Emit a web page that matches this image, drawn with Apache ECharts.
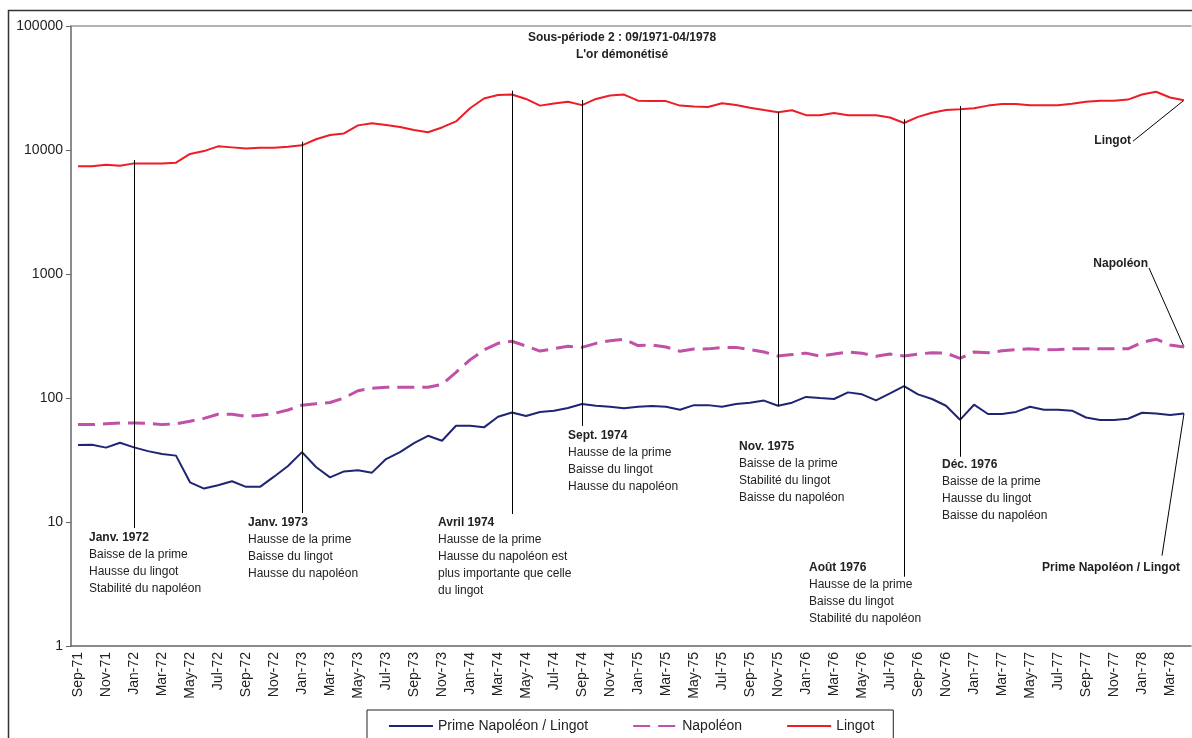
<!DOCTYPE html>
<html>
<head>
<meta charset="utf-8">
<script src="https://cdn.jsdelivr.net/npm/echarts@6/dist/echarts.min.js"></script>
<style>
html, body { margin: 0; padding: 0; background: #fff; }
#main { width: 1192px; height: 738px; }
</style>
</head>
<body>
<div id="main"></div>
<script>
var months = [
  'Sep-71','Oct-71','Nov-71','Dec-71','Jan-72','Feb-72','Mar-72','Apr-72','May-72','Jun-72','Jul-72','Aug-72',
  'Sep-72','Oct-72','Nov-72','Dec-72','Jan-73','Feb-73','Mar-73','Apr-73','May-73','Jun-73','Jul-73','Aug-73',
  'Sep-73','Oct-73','Nov-73','Dec-73','Jan-74','Feb-74','Mar-74','Apr-74','May-74','Jun-74','Jul-74','Aug-74',
  'Sep-74','Oct-74','Nov-74','Dec-74','Jan-75','Feb-75','Mar-75','Apr-75','May-75','Jun-75','Jul-75','Aug-75',
  'Sep-75','Oct-75','Nov-75','Dec-75','Jan-76','Feb-76','Mar-76','Apr-76','May-76','Jun-76','Jul-76','Aug-76',
  'Sep-76','Oct-76','Nov-76','Dec-76','Jan-77','Feb-77','Mar-77','Apr-77','May-77','Jun-77','Jul-77','Aug-77',
  'Sep-77','Oct-77','Nov-77','Dec-77','Jan-78','Feb-78','Mar-78','Apr-78'
];

var lingot = [
  7400, 7400, 7600, 7450, 7800, 7800, 7800, 7900, 9300, 9800,
  10700, 10500, 10300, 10450, 10450, 10600, 10900, 12200, 13200, 13600,
  15800, 16400, 15900, 15300, 14500, 13900, 15200, 17000, 21700, 26000,
  27800, 28000, 25800, 22800, 23700, 24500, 23000, 25800, 27500, 28000,
  25000, 24800, 24800, 22800, 22400, 22200, 23800, 23100, 21900, 21000,
  20200, 20900, 19100, 19100, 19900, 19100, 19100, 19100, 18300, 16500,
  18500, 20000, 21000, 21300, 21700, 22800, 23500, 23500, 23000, 23000,
  23000, 23600, 24500, 25000, 25000, 25500, 28000, 29500, 26500, 25200
];

var napoleon = [
  61, 61, 62, 63, 63, 62.5, 61, 62, 65, 68.5,
  74, 74, 71, 72.5, 75, 80, 87.5, 90, 92, 100,
  114.5, 120, 122, 122, 122, 122, 129, 161, 203, 244,
  276, 287, 262, 239, 250, 261, 256, 276, 290, 298,
  265, 267, 258, 238, 248, 249, 256, 256, 246, 235,
  218, 224, 230, 218, 226, 235, 230, 217, 226, 218,
  226, 232, 230, 209, 235, 232, 240, 246, 249, 244,
  246, 249, 249, 249, 249, 249, 281, 298, 268, 258
];

var prime = [
  41.8, 42, 39.8, 43.6, 40, 37.3, 35.4, 34.3, 20.9, 18.6,
  19.8, 21.3, 19.2, 19.2, 23.2, 28.3, 36.6, 27.8, 22.9, 25.6,
  26.1, 25, 32.2, 36.6, 43.2, 49.6, 45.2, 59.7, 59.7, 58,
  70.7, 76.5, 71.5, 77, 78.9, 83, 89.5, 86.6, 85, 82.7,
  84.9, 86, 85, 80.3, 87.6, 87.6, 85, 89.5, 91.7, 95.3,
  86.6, 91.7, 102, 100, 98.2, 111, 107, 95.7, 109, 124.5,
  107, 98.2, 86.6, 66.7, 88.3, 74.3, 74.3, 77.2, 85, 80.3,
  80.3, 79, 69.6, 66.4, 66.4, 68, 76.1, 74.9, 73, 74.9
];

// vertical event lines (value range in data units) and their notes
var events = [
  { month: 'Jan-72', from: 8300, to: 8.95, dx: -45, dy: 10,
    lines: ['Janv. 1972', 'Baisse de la prime', 'Hausse du lingot', 'Stabilité du napoléon'] },
  { month: 'Jan-73', from: 11670, to: 11.8, dx: -54, dy: 10,
    lines: ['Janv. 1973', 'Hausse de la prime', 'Baisse du lingot', 'Hausse du napoléon'] },
  { month: 'Apr-74', from: 30100, to: 11.6, dx: -74, dy: 9,
    lines: ['Avril 1974', 'Hausse de la prime', 'Hausse du napoléon est', 'plus importante que celle', 'du lingot'] },
  { month: 'Sep-74', from: 25300, to: 59.5, dx: -14, dy: 10,
    lines: ['Sept. 1974', 'Hausse de la prime', 'Baisse du lingot', 'Hausse du napoléon'] },
  { month: 'Nov-75', from: 20250, to: 86, dx: -39, dy: 41,
    lines: ['Nov. 1975', 'Baisse de la prime', 'Stabilité du lingot', 'Baisse du napoléon'] },
  { month: 'Aug-76', from: 17700, to: 3.62, dx: -95, dy: -9,
    lines: ['Août 1976', 'Hausse de la prime', 'Baisse du lingot', 'Stabilité du napoléon'] },
  { month: 'Dec-76', from: 22600, to: 33.6, dx: -18, dy: 8,
    lines: ['Déc. 1976', 'Baisse de la prime', 'Hausse du lingot', 'Baisse du napoléon'] }
];

var FONT = '"Liberation Sans", Arial, sans-serif';
var colPrime = '#1f2573', colNap = '#c050a8', colLingot = '#ee1c25';

var chart = echarts.init(document.getElementById('main'));

var markLines = events.map(function (e) {
  return [{ coord: [e.month, e.from] }, { coord: [e.month, e.to] }];
});

var option = {
  animation: false,
  textStyle: { fontFamily: FONT },
  grid: { left: 71, right: 1, top: 26, bottom: 92, outerBoundsMode: 'none' },
  legend: {
    data: ['Prime Napoléon / Lingot', 'Napoléon', 'Lingot'],
    left: 367, top: 710,
    padding: [9, 19, 12, 21],
    itemGap: 44, itemWidth: 44, itemHeight: 10,
    borderColor: '#222', borderWidth: 1,
    selectedMode: false,
    itemStyle: { opacity: 0 },
    textStyle: { fontSize: 14, color: '#222', fontFamily: FONT }
  },
  xAxis: [{
    type: 'category',
    data: months,
    boundaryGap: true,
    axisLine: { lineStyle: { color: '#666', width: 1.5 } },
    axisTick: { interval: 1, length: 5, lineStyle: { color: '#666' } },
    axisLabel: { interval: 1, rotate: 90, fontSize: 14, color: '#222', margin: 6 },
    splitLine: { show: false }
  }, {
    type: 'category',
    data: months,
    position: 'top',
    axisLine: { lineStyle: { color: '#999', width: 1.5 } },
    axisTick: { show: false },
    axisLabel: { show: false }
  }],
  yAxis: {
    type: 'log',
    logBase: 10,
    min: 1, max: 100000,
    axisLine: { show: true, lineStyle: { color: '#666', width: 1.5 } },
    axisTick: { show: true, length: 5, lineStyle: { color: '#666' } },
    axisLabel: { fontSize: 14, color: '#222', margin: 8,
      formatter: function (v) { return String(Math.round(v)); } },
    splitLine: { show: false }
  },
  series: [{
    name: 'Prime Napoléon / Lingot',
    type: 'line',
    data: prime,
    symbol: 'none',
    color: colPrime,
    lineStyle: { color: colPrime, width: 2 }
  }, {
    name: 'Napoléon',
    type: 'line',
    data: napoleon,
    symbol: 'none',
    color: colNap,
    lineStyle: { color: colNap, width: 3, type: [17, 8] }
  }, {
    name: 'Lingot',
    type: 'line',
    data: lingot,
    symbol: 'none',
    color: colLingot,
    lineStyle: { color: colLingot, width: 2 },
    markLine: {
      silent: true,
      symbol: 'none',
      label: { show: false },
      lineStyle: { color: '#000', width: 1, type: 'solid' },
      data: markLines
    }
  }]
};
chart.setOption(option);

// annotations placed relative to data points
var g = [];
g.push({ type: 'rect', shape: { x: 8.5, y: 10.5, width: 1300, height: 900 },
  style: { fill: 'none', stroke: '#333', lineWidth: 1.5 }, silent: true });
g.push({ type: 'text', x: 622, y: 38, style: { text: 'Sous-période 2 : 09/1971-04/1978',
  font: 'bold 12px ' + FONT, fill: '#222', textAlign: 'center', textVerticalAlign: 'middle', align: 'center', verticalAlign: 'middle' } });
g.push({ type: 'text', x: 622, y: 55, style: { text: "L'or démonétisé",
  font: 'bold 12px ' + FONT, fill: '#222', textAlign: 'center', textVerticalAlign: 'middle', align: 'center', verticalAlign: 'middle' } });

function txt(x, y, s, bold, align) {
  return { type: 'text', x: x, y: y, silent: true,
    style: { text: s, font: (bold ? 'bold ' : '') + '12px ' + FONT, fill: '#222',
      textAlign: align || 'left', align: align || 'left',
      textVerticalAlign: 'middle', verticalAlign: 'middle' } };
}

events.forEach(function (e) {
  var p = chart.convertToPixel({ xAxisIndex: 0, yAxisIndex: 0 }, [e.month, e.to]);
  e.lines.forEach(function (s, k) {
    g.push(txt(p[0] + e.dx, p[1] + e.dy + 17 * k, s, k === 0));
  });
});

var last = months.length - 1;
var tags = [
  { name: 'Lingot', value: lingot[last], tx: -53, ty: 40, lx: -51, ly: 41 },
  { name: 'Napoléon', value: napoleon[last], tx: -36, ty: -83, lx: -35, ly: -79 },
  { name: 'Prime Napoléon / Lingot', value: prime[last], tx: -4, ty: 154, lx: -22, ly: 142 }
];
tags.forEach(function (t) {
  var p = chart.convertToPixel({ xAxisIndex: 0, yAxisIndex: 0 }, [months[last], t.value]);
  g.push(txt(p[0] + t.tx, p[1] + t.ty, t.name, true, 'right'));
  g.push({ type: 'line', silent: true,
    shape: { x1: p[0] + t.lx, y1: p[1] + t.ly, x2: p[0], y2: p[1] },
    style: { stroke: '#000', lineWidth: 1 } });
});

chart.setOption({ graphic: g });
</script>
</body>
</html>
